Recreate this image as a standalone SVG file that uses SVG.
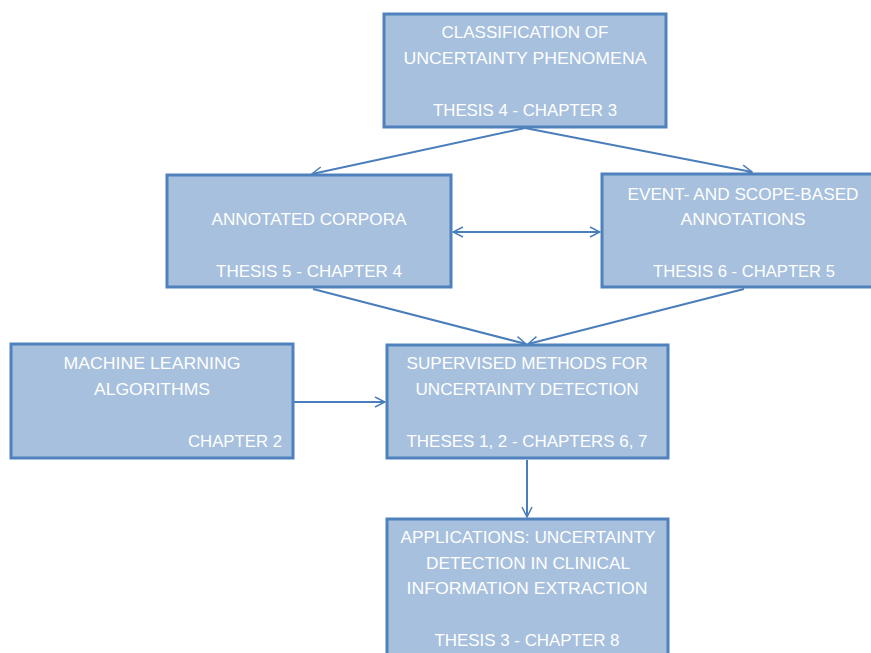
<svg xmlns="http://www.w3.org/2000/svg" width="871" height="653" viewBox="0 0 871 653">
<style>
.box{fill:#A7C0DE;stroke:#4F81BD;stroke-width:3}
.t{font-family:"Liberation Sans",Arial,sans-serif;font-size:16.5px;fill:#FFFFFF;text-anchor:middle}
.r{text-anchor:end}
.c{fill:none;stroke:#4A7EBB;stroke-width:2}
</style>
<defs>
<marker id="ah" viewBox="0 0 12 12" refX="11" refY="6" markerWidth="6" markerHeight="6" markerUnits="strokeWidth" orient="auto-start-reverse">
<path d="M1,1 L11,6 L1,11" fill="none" stroke="#4A7EBB" stroke-width="1.5"/>
</marker>
</defs>
<rect width="871" height="653" fill="#FFFFFF"/>
<g id="connectors">
<line class="c" x1="525" y1="128" x2="312" y2="174" marker-end="url(#ah)"/>
<line class="c" x1="525" y1="128" x2="752" y2="172" marker-end="url(#ah)"/>
<line class="c" x1="453" y1="232" x2="600" y2="232" marker-start="url(#ah)" marker-end="url(#ah)"/>
<line class="c" x1="313" y1="289" x2="526" y2="344" marker-end="url(#ah)"/>
<line class="c" x1="744" y1="289" x2="528" y2="344" marker-end="url(#ah)"/>
<line class="c" x1="294" y1="402" x2="385" y2="402" marker-end="url(#ah)"/>
<line class="c" x1="527" y1="460" x2="527" y2="517" marker-end="url(#ah)"/>
</g>
<g id="n1">
<rect class="box" x="384" y="14" width="282" height="113"/>
<text class="t" x="525" y="38" textLength="167" lengthAdjust="spacingAndGlyphs">CLASSIFICATION OF</text>
<text class="t" x="525" y="64" textLength="243" lengthAdjust="spacingAndGlyphs">UNCERTAINTY PHENOMENA</text>
<text class="t" x="525" y="116" textLength="184" lengthAdjust="spacingAndGlyphs">THESIS 4 - CHAPTER 3</text>
</g>
<g id="n2">
<rect class="box" x="167" y="175" width="284" height="112"/>
<text class="t" x="309" y="225" textLength="195" lengthAdjust="spacingAndGlyphs">ANNOTATED CORPORA</text>
<text class="t" x="309" y="277" textLength="186" lengthAdjust="spacingAndGlyphs">THESIS 5 - CHAPTER 4</text>
</g>
<g id="n3">
<rect class="box" x="602" y="174" width="284" height="113"/>
<text class="t" x="743" y="200" textLength="231" lengthAdjust="spacingAndGlyphs">EVENT- AND SCOPE-BASED</text>
<text class="t" x="743" y="225" textLength="125" lengthAdjust="spacingAndGlyphs">ANNOTATIONS</text>
<text class="t" x="744" y="277" textLength="182" lengthAdjust="spacingAndGlyphs">THESIS 6 - CHAPTER 5</text>
</g>
<g id="n4">
<rect class="box" x="11" y="344" width="282" height="114"/>
<text class="t" x="152" y="369" textLength="177" lengthAdjust="spacingAndGlyphs">MACHINE LEARNING</text>
<text class="t" x="152" y="395" textLength="116" lengthAdjust="spacingAndGlyphs">ALGORITHMS</text>
<text class="t r" x="282" y="447" textLength="94" lengthAdjust="spacingAndGlyphs">CHAPTER 2</text>
</g>
<g id="n5">
<rect class="box" x="387" y="345" width="281" height="113"/>
<text class="t" x="527" y="369" textLength="241" lengthAdjust="spacingAndGlyphs">SUPERVISED METHODS FOR</text>
<text class="t" x="527" y="395" textLength="223" lengthAdjust="spacingAndGlyphs">UNCERTAINTY DETECTION</text>
<text class="t" x="527" y="447" textLength="241" lengthAdjust="spacingAndGlyphs">THESES 1, 2 - CHAPTERS 6, 7</text>
</g>
<g id="n6">
<rect class="box" x="387" y="519" width="281" height="150"/>
<text class="t" x="528" y="543" textLength="255" lengthAdjust="spacingAndGlyphs">APPLICATIONS: UNCERTAINTY</text>
<text class="t" x="528" y="569" textLength="204" lengthAdjust="spacingAndGlyphs">DETECTION IN CLINICAL</text>
<text class="t" x="527" y="594" textLength="241" lengthAdjust="spacingAndGlyphs">INFORMATION EXTRACTION</text>
<text class="t" x="527" y="646" textLength="185" lengthAdjust="spacingAndGlyphs">THESIS 3 - CHAPTER 8</text>
</g>
</svg>
